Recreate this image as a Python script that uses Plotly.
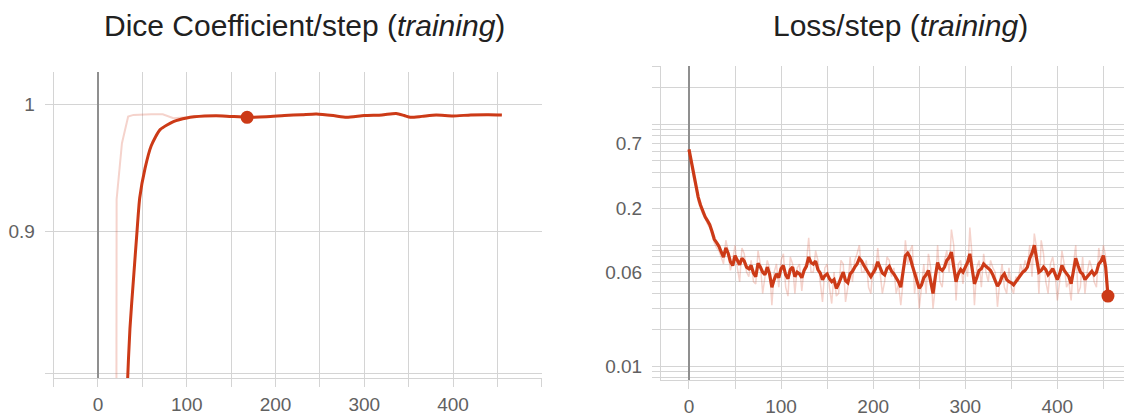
import plotly.graph_objects as go

# ---------------- data ----------------
DICE_SMOOTH_STEPS = [0, 10, 20, 25, 30, 33, 36, 40, 44, 47, 53, 60, 70, 85, 100, 120, 140, 168,
                     190, 210, 230, 246, 265, 280, 300, 320, 336, 345, 352, 365, 381, 400, 420, 440, 455]
DICE_SMOOTH = [0.2, 0.35, 0.5, 0.6, 0.72, 0.79, 0.83, 0.865, 0.9, 0.925, 0.948, 0.966, 0.979, 0.9855,
               0.9885, 0.99, 0.9902, 0.989, 0.9895, 0.9905, 0.9912, 0.9918, 0.9905, 0.989, 0.9905,
               0.991, 0.9922, 0.9905, 0.989, 0.9898, 0.9909, 0.9901, 0.991, 0.9912, 0.991]

DICE_RAW_STEPS = [0, 10, 20, 21, 27, 34, 40, 50, 60, 73, 85, 100, 120, 140, 168, 190, 210, 230, 246,
                  265, 280, 300, 320, 336, 345, 352, 365, 381, 400, 420, 440, 455]
DICE_RAW = [0.1, 0.2, 0.45, 0.924, 0.968, 0.9896, 0.991, 0.9915, 0.9915, 0.9915, 0.9883, 0.989,
            0.9902, 0.9905, 0.9892, 0.9897, 0.9906, 0.9914, 0.992, 0.9903, 0.9889, 0.9906, 0.9912,
            0.9924, 0.9904, 0.9888, 0.99, 0.991, 0.99, 0.9911, 0.9913, 0.9911]

DICE_MARK_STEP = [168]
DICE_MARK_VAL = [0.989]

# loss sampled every 5 steps (0..455) plus in-between readings at 2.5, 7.5, ... 452.5
LOSS_STEPS = [0, 5, 10, 15, 20, 25, 30, 35, 40, 45, 50, 55, 60, 65, 70, 75, 80, 85, 90, 95,
              100, 105, 110, 115, 120, 125, 130, 135, 140, 145, 150, 155, 160, 165, 170, 175,
              180, 185, 190, 195, 200, 205, 210, 215, 220, 225, 230, 235, 240, 245, 250, 255,
              260, 265, 270, 275, 280, 285, 290, 295, 300, 305, 310, 315, 320, 325, 330, 335,
              340, 345, 350, 355, 360, 365, 370, 375, 380, 385, 390, 395, 400, 405, 410, 415,
              420, 425, 430, 435, 440, 445, 450, 455]
LOSS_SMOOTH = [0.62, 0.39, 0.25, 0.19, 0.16, 0.13, 0.105, 0.088, 0.095, 0.073, 0.082, 0.069,
               0.074, 0.064, 0.059, 0.071, 0.060, 0.066, 0.045, 0.058, 0.064, 0.057, 0.063, 0.055,
               0.058, 0.062, 0.080, 0.070, 0.063, 0.052, 0.058, 0.050, 0.044, 0.055, 0.051, 0.058,
               0.066, 0.078, 0.068, 0.059, 0.060, 0.073, 0.059, 0.064, 0.061, 0.054, 0.045, 0.082,
               0.080, 0.059, 0.044, 0.054, 0.062, 0.040, 0.072, 0.062, 0.075, 0.088, 0.050, 0.063,
               0.066, 0.085, 0.048, 0.062, 0.070, 0.065, 0.057, 0.046, 0.055, 0.052, 0.049, 0.050,
               0.057, 0.062, 0.078, 0.100, 0.060, 0.066, 0.057, 0.064, 0.052, 0.068, 0.058, 0.048,
               0.078, 0.060, 0.052, 0.058, 0.057, 0.070, 0.082, 0.038]
LOSS_RAW = [0.62, 0.36, 0.23, 0.18, 0.15, 0.12, 0.095, 0.08, 0.11, 0.062, 0.10, 0.05, 0.085,
            0.055, 0.05, 0.09, 0.04, 0.075, 0.032, 0.07, 0.075, 0.045, 0.08, 0.04, 0.07, 0.065,
            0.115, 0.06, 0.075, 0.034, 0.07, 0.033, 0.038, 0.075, 0.034, 0.08, 0.075, 0.1, 0.06,
            0.045, 0.07, 0.095, 0.04, 0.08, 0.055, 0.04, 0.032, 0.11, 0.09, 0.04, 0.03, 0.07,
            0.085, 0.03, 0.1, 0.045, 0.09, 0.135, 0.035, 0.075, 0.07, 0.14, 0.032, 0.075, 0.085,
            0.05, 0.065, 0.031, 0.07, 0.04, 0.045, 0.055, 0.07, 0.075, 0.1, 0.125, 0.04, 0.085,
            0.04, 0.08, 0.035, 0.09, 0.045, 0.035, 0.1, 0.045, 0.04, 0.075, 0.05, 0.095, 0.1, 0.034]

LOSS_MID_STEPS = [2.5, 7.5, 12.5, 17.5, 22.5, 27.5, 32.5, 37.5, 42.5, 47.5,
                  52.5, 57.5, 62.5, 67.5, 72.5, 77.5, 82.5, 87.5, 92.5, 97.5,
                  102.5, 107.5, 112.5, 117.5, 122.5, 127.5, 132.5, 137.5, 142.5, 147.5,
                  152.5, 157.5, 162.5, 167.5, 172.5, 177.5, 182.5, 187.5, 192.5, 197.5,
                  202.5, 207.5, 212.5, 217.5, 222.5, 227.5, 232.5, 237.5, 242.5, 247.5,
                  252.5, 257.5, 262.5, 267.5, 272.5, 277.5, 282.5, 287.5, 292.5, 297.5,
                  302.5, 307.5, 312.5, 317.5, 322.5, 327.5, 332.5, 337.5, 342.5, 347.5,
                  352.5, 357.5, 362.5, 367.5, 372.5, 377.5, 382.5, 387.5, 392.5, 397.5,
                  402.5, 407.5, 412.5, 417.5, 422.5, 427.5, 432.5, 437.5, 442.5, 447.5,
                  452.5]
LOSS_SMOOTH_MID = [0.49, 0.31, 0.215, 0.172, 0.148, 0.112, 0.098, 0.080, 0.086, 0.068,
                   0.076, 0.078, 0.066, 0.068, 0.055, 0.066, 0.057, 0.058, 0.052, 0.054,
                   0.068, 0.053, 0.066, 0.060, 0.054, 0.067, 0.072, 0.074, 0.059, 0.056,
                   0.053, 0.052, 0.048, 0.060, 0.049, 0.061, 0.070, 0.074, 0.064, 0.055,
                   0.064, 0.065, 0.057, 0.067, 0.058, 0.050, 0.062, 0.086, 0.068, 0.052,
                   0.047, 0.057, 0.050, 0.055, 0.064, 0.066, 0.079, 0.066, 0.058, 0.060,
                   0.072, 0.064, 0.054, 0.064, 0.067, 0.062, 0.052, 0.049, 0.058, 0.050,
                   0.047, 0.054, 0.060, 0.066, 0.086, 0.078, 0.062, 0.063, 0.060, 0.058,
                   0.058, 0.062, 0.055, 0.060, 0.068, 0.058, 0.055, 0.061, 0.060, 0.074,
                   0.066]
LOSS_RAW_MID = [0.50, 0.30, 0.20, 0.17, 0.14, 0.105, 0.09, 0.07, 0.09, 0.075,
                0.065, 0.095, 0.06, 0.075, 0.048, 0.07, 0.055, 0.065, 0.06, 0.045,
                0.085, 0.038, 0.07, 0.065, 0.042, 0.072, 0.06, 0.09, 0.05, 0.065,
                0.045, 0.06, 0.04, 0.07, 0.045, 0.05, 0.085, 0.06, 0.075, 0.04,
                0.058, 0.06, 0.05, 0.075, 0.065, 0.048, 0.05, 0.07, 0.10, 0.06,
                0.045, 0.04, 0.065, 0.045, 0.05, 0.075, 0.06, 0.10, 0.07, 0.048,
                0.055, 0.08, 0.065, 0.045, 0.06, 0.075, 0.06, 0.05, 0.045, 0.065,
                0.04, 0.05, 0.06, 0.065, 0.055, 0.095, 0.11, 0.05, 0.07, 0.06,
                0.05, 0.07, 0.05, 0.07, 0.04, 0.08, 0.06, 0.065, 0.045, 0.07,
                0.08]

LOSS_MARK_STEP = [455]
LOSS_MARK_VAL = [0.038]

X_GRID_LEFT = [-50, 0, 50, 100, 150, 200, 250, 300, 350, 400, 450, 500]
X_TEXT_LEFT = ["", "0", "", "100", "", "200", "", "300", "", "400", "", ""]
X_GRID_RIGHT = [0, 50, 100, 150, 200, 250, 300, 350, 400, 450]
X_TEXT_RIGHT = ["0", "", "100", "", "200", "", "300", "", "400", ""]

Y_GRID_LEFT = [0.8, 0.9, 1.0]
Y_TEXT_LEFT = ["", "0.9", "1"]

Y_GRID_RIGHT = [0.008, 0.009, 0.01, 0.02, 0.03, 0.04, 0.05, 0.06, 0.07, 0.08, 0.09,
                0.1, 0.2, 0.3, 0.4, 0.5, 0.6, 0.7, 0.8, 0.9, 1, 2, 3]
Y_TEXT_RIGHT = ["", "", "0.01", "", "", "", "", "0.06", "", "", "",
                "", "0.2", "", "", "", "", "0.7", "", "", "", "", ""]

TITLE_LEFT = "Dice Coefficient/step (<i>training</i>)"
TITLE_RIGHT = "Loss/step (<i>training</i>)"


def interleave(a_x, a_y, b_x, b_y):
    pts = sorted(list(zip(a_x, a_y)) + list(zip(b_x, b_y)))
    return [p[0] for p in pts], [p[1] for p in pts]


loss_x, loss_smooth = interleave(LOSS_STEPS, LOSS_SMOOTH, LOSS_MID_STEPS, LOSS_SMOOTH_MID)
loss_xr, loss_raw = interleave(LOSS_STEPS, LOSS_RAW, LOSS_MID_STEPS, LOSS_RAW_MID)

# ---------------- style ----------------
PAGE_OFF = 8                     # default body margin of the html page
W, H = 1132 - PAGE_OFF, 419 - PAGE_OFF
MAIN = "#cc3a17"
RAW = "rgba(214, 80, 50, 0.25)"
GRID = "#d4d4d4"
ZERO = "#8f8f8f"
TICKC = "#616161"
FONT = "Liberation Sans, Arial, sans-serif"

fig = go.Figure()

fig.add_trace(go.Scatter(x=DICE_RAW_STEPS, y=DICE_RAW, mode="lines",
                         line=dict(color=RAW, width=2), xaxis="x", yaxis="y", hoverinfo="skip"))
fig.add_trace(go.Scatter(x=DICE_SMOOTH_STEPS, y=DICE_SMOOTH, mode="lines",
                         line=dict(color=MAIN, width=3, shape="spline", smoothing=0.6),
                         xaxis="x", yaxis="y", hoverinfo="skip"))
fig.add_trace(go.Scatter(x=DICE_MARK_STEP, y=DICE_MARK_VAL, mode="markers",
                         marker=dict(color=MAIN, size=13), xaxis="x", yaxis="y", hoverinfo="skip"))

fig.add_trace(go.Scatter(x=loss_xr, y=loss_raw, mode="lines",
                         line=dict(color=RAW, width=1.5), xaxis="x2", yaxis="y2", hoverinfo="skip"))
fig.add_trace(go.Scatter(x=loss_x, y=loss_smooth, mode="lines",
                         line=dict(color=MAIN, width=3.2), xaxis="x2", yaxis="y2", hoverinfo="skip"))
fig.add_trace(go.Scatter(x=LOSS_MARK_STEP, y=LOSS_MARK_VAL, mode="markers",
                         marker=dict(color=MAIN, size=13), xaxis="x2", yaxis="y2", hoverinfo="skip"))


def px_x(p):
    return min(1.0, (p - PAGE_OFF) / W)


def px_y(p):
    return 1 - (p - PAGE_OFF) / H


common_x = dict(showgrid=True, gridcolor=GRID, gridwidth=1, ticks="outside", ticklen=8,
                tickcolor=GRID, tickfont=dict(family=FONT, size=19, color=TICKC),
                zeroline=True, zerolinecolor=ZERO, zerolinewidth=1.5,
                showline=True, linecolor=GRID, linewidth=1, tickmode="array",
                ticklabelstandoff=1, fixedrange=True, automargin=False)
common_y = dict(type="log", showgrid=True, gridcolor=GRID, gridwidth=1, ticks="outside",
                ticklen=8, tickcolor=GRID, tickfont=dict(family=FONT, size=19, color=TICKC),
                showline=True, linecolor=GRID, linewidth=1, tickmode="array",
                ticklabelstandoff=6, fixedrange=True, automargin=False)

fig.update_layout(
    width=W, height=H,
    margin=dict(l=0, r=0, t=0, b=0, autoexpand=False),
    paper_bgcolor="white", plot_bgcolor="white",
    showlegend=False,
    xaxis=dict(common_x, domain=[px_x(53.6), px_x(541.8)], range=[-50, 500],
               tickvals=X_GRID_LEFT, ticktext=X_TEXT_LEFT, anchor="y"),
    yaxis=dict(common_y, domain=[px_y(378), px_y(72)], range=[-0.0987, 0.01153],
               tickvals=Y_GRID_LEFT, ticktext=Y_TEXT_LEFT, anchor="x"),
    xaxis2=dict(common_x, domain=[px_x(661), 1.0], range=[-30.4, 481.1],
                tickvals=X_GRID_RIGHT, ticktext=X_TEXT_RIGHT, anchor="y2"),
    yaxis2=dict(common_y, domain=[px_y(380), px_y(66)], range=[-2.1135, 0.4815],
                tickvals=Y_GRID_RIGHT, ticktext=Y_TEXT_RIGHT, anchor="x2"),
    annotations=[
        dict(text=TITLE_LEFT, x=px_x(304), y=px_y(26), xref="paper", yref="paper",
             xanchor="center", yanchor="middle", showarrow=False,
             font=dict(family=FONT, size=30, color="#212121")),
        dict(text=TITLE_RIGHT, x=px_x(900), y=px_y(26), xref="paper", yref="paper",
             xanchor="center", yanchor="middle", showarrow=False,
             font=dict(family=FONT, size=30, color="#212121")),
    ],
)

fig.write_html("out.html", config={"displayModeBar": False, "staticPlot": True})
